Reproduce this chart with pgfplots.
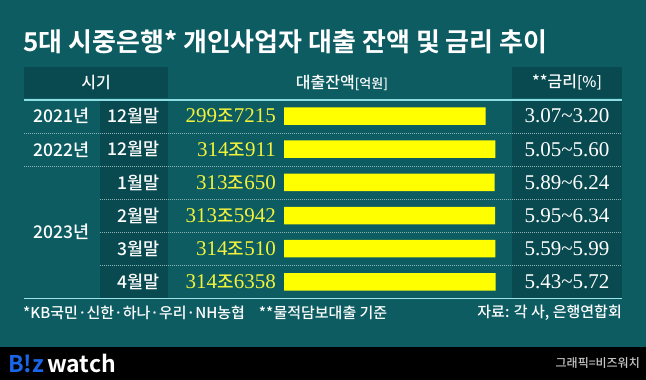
\documentclass[border=0pt]{standalone}
\usepackage{pgfplots}
\pgfplotsset{compat=1.18}
\usepackage{fontspec}
\setmainfont{Noto Sans CJK KR}
\newfontfamily\kr{Noto Sans CJK KR Medium}
\newfontfamily\krb{Noto Sans CJK KR Bold}
\newfontfamily\srf{Liberation Serif}
\definecolor{bg}{HTML}{0C5C62}
\definecolor{dk}{HTML}{094A50}
\definecolor{ybar}{HTML}{FFFF00}
\definecolor{yval}{HTML}{F2F23A}
\definecolor{rule}{HTML}{8EDDE3}
\definecolor{dots}{HTML}{8DB3B6}
\definecolor{logob}{HTML}{1A66E8}
\newcommand{\fs}[1]{\fontsize{#1}{#1}\selectfont}
\newcommand{\val}[2]{{\srf\fs{21}#1}{\kr\fs{18}조}{\srf\fs{21}#2}}
\begin{document}
\begin{tikzpicture}[x=1pt,y=1pt]
\fill[bg] (0,0) rectangle (646,380);
\fill[black] (0,0) rectangle (646,33);
% header cells
\fill[dk] (24,313) rectangle (168,282);
\fill[dk] (512,313) rectangle (622,282);
% body dark columns
\fill[dk] (100,280) rectangle (168,81.5);
\fill[dk] (512,280) rectangle (622,81.5);
% rules
\draw[rule, line width=2pt] (24,280) -- (622,280);
\draw[rule!85!white, line width=1.5pt] (24,81.5) -- (622,81.5);
\foreach \yy in {247,214}{\draw[dots, line width=0.8pt, dash pattern=on 1pt off 1pt] (24,\yy) -- (622,\yy);}
\foreach \yy in {180.5,147.5,114.5}{\draw[dots, line width=0.8pt, dash pattern=on 1pt off 1pt] (100,\yy) -- (622,\yy);}
% title
\node[anchor=west, text=white, inner sep=0pt] at (23,338.5) {\krb\fs{26}5대 시중은행* 개인사업자 대출 잔액 및 금리 추이};
% header text
\node[text=white, inner sep=0pt] at (96,297.5) {\kr\fs{16}시기};
\node[text=white, inner sep=0pt] at (342,297.5) {\kr\fs{16}대출잔액{\fs{13}[억원]}};
\node[text=white, inner sep=0pt] at (567,297.5) {\kr\fs{16}**금리{\fs{15}[\%]}};
% bars
\begin{axis}[at={(284pt,81.5pt)}, anchor=south west, width=235.5pt, height=199pt,
  scale only axis, xmin=0, xmax=3500000, ymin=-0.5, ymax=5.5, y dir=reverse,
  hide axis, xbar, bar width=17.5pt, bar shift=0pt, clip=false]
\addplot[fill=ybar, draw=none] coordinates {(2997215,0) (3140911,1) (3130650,2) (3135942,3) (3140510,4) (3146358,5)};
\end{axis}
% row labels
\begin{scope}[every node/.style={inner sep=0pt, text=white}]
\node[anchor=east] at (90,263.9) {\kr\fs{17.5}2021년};
\node[anchor=east] at (90,230.7) {\kr\fs{17.5}2022년};
\node[anchor=east] at (90,147.85) {\kr\fs{17.5}2023년};
\node[anchor=east] at (160,263.9) {\kr\fs{17.5}12월말};
\node[anchor=east] at (160,230.7) {\kr\fs{17.5}12월말};
\node[anchor=east] at (160,197.6) {\kr\fs{17.5}1월말};
\node[anchor=east] at (160,164.4) {\kr\fs{17.5}2월말};
\node[anchor=east] at (160,131.2) {\kr\fs{17.5}3월말};
\node[anchor=east] at (160,98.1) {\kr\fs{17.5}4월말};
\end{scope}
\begin{scope}[every node/.style={inner sep=0pt, text=yval, anchor=east}]
\node at (276,263.9) {\val{299}{7215}};
\node at (276,230.7) {\val{314}{911}};
\node at (276,197.6) {\val{313}{650}};
\node at (276,164.4) {\val{313}{5942}};
\node at (276,131.2) {\val{314}{510}};
\node at (276,98.1) {\val{314}{6358}};
\end{scope}
\begin{scope}[every node/.style={inner sep=0pt, text=white}]
\node at (567,263.9) {\srf\fs{21}3.07\char`\~3.20};
\node at (567,230.7) {\srf\fs{21}5.05\char`\~5.60};
\node at (567,197.6) {\srf\fs{21}5.89\char`\~6.24};
\node at (567,164.4) {\srf\fs{21}5.95\char`\~6.34};
\node at (567,131.2) {\srf\fs{21}5.59\char`\~5.99};
\node at (567,98.1) {\srf\fs{21}5.43\char`\~5.72};
\end{scope}
% footer
\node[anchor=west, inner sep=0pt, text=white] at (23,67) {\kr\fs{15}*KB국민·신한·하나·우리·NH농협\hspace{14pt}**물적담보대출 기준};
\node[anchor=east, inner sep=0pt, text=white] at (622,67) {\kr\fs{15}자료: 각 사, 은행연합회};
% bottom band
\node[anchor=west, inner sep=0pt] at (8,17) {\krb\fs{23}\textcolor{logob}{B!z}\hspace{3pt}\textcolor{white}{watch}};
\node[anchor=east, inner sep=0pt, text=white!78!black] at (640,17) {\kr\fs{12}그래픽=비즈워치};
\pgfresetboundingbox
\useasboundingbox (0,0) rectangle (646,380);
\end{tikzpicture}
\end{document}
